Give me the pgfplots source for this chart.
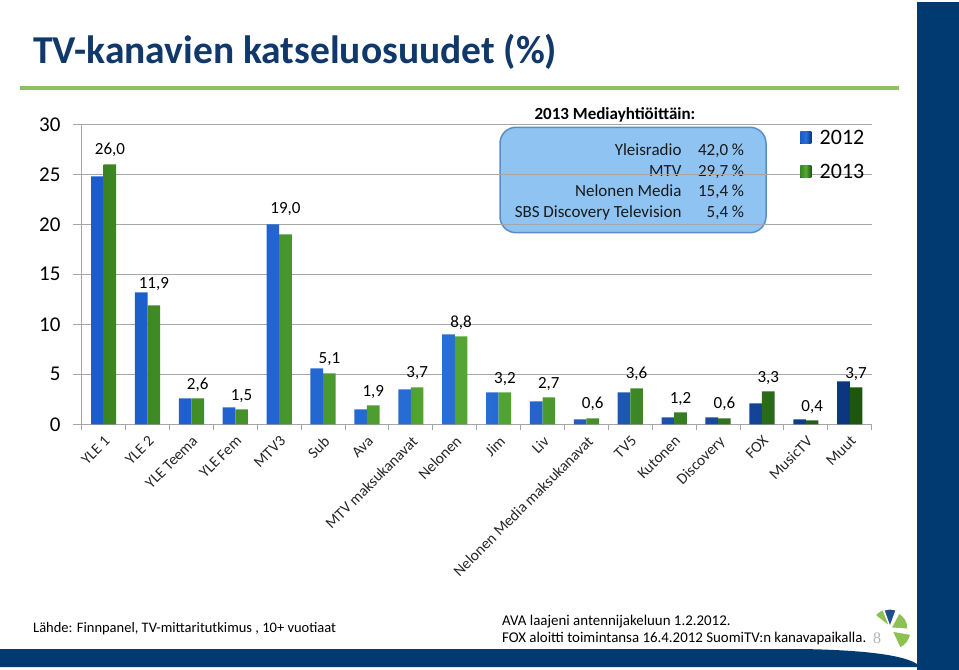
\documentclass[border=0pt]{standalone}
\usepackage{pgfplots}
\usepackage{pgfplotstable}
\pgfplotsset{compat=1.18}
\usepackage{fontspec}
\setmainfont{Carlito}
\newfontfamily\serifnum{Liberation Serif}
\definecolor{navy}{HTML}{003A70}
\definecolor{titleblue}{HTML}{10386A}
\definecolor{lgreen}{HTML}{8CC063}
\definecolor{boxfill}{HTML}{8FC3F2}
\definecolor{boxdraw}{HTML}{5C8CC4}
\definecolor{bL}{HTML}{1A5CC8}
\definecolor{bM}{HTML}{2A6ED8}
\definecolor{bR}{HTML}{0B3580}
\definecolor{gL}{HTML}{3A8522}
\definecolor{gM}{HTML}{55A834}
\definecolor{gR}{HTML}{1C5510}
\definecolor{gridgray}{HTML}{A6A6A6}
\definecolor{logoblue}{HTML}{1F4E8C}
\definecolor{logogreen}{HTML}{8DC152}
\pgfplotstableread{
x  y12   y13   dy
0  24.8  26.0  4
1  13.2  11.9  11
2  2.6   2.6   3.5
3  1.7   1.5   3.5
4  20.0  19.0  15
5  5.6   5.1   4
6  1.5   1.9   3.5
7  3.5   3.7   4.5
8  9.0   8.8   3.5
9  3.2   3.2   3.5
10 2.3   2.7   3.5
11 0.5   0.6   4
12 3.2   3.6   4
13 0.7   1.2   3.5
14 0.7   0.6   4
15 2.1   3.3   3.5
16 0.5   0.4   3.5
17 4.3   3.7   3.5
}\shares
\begin{document}
\begin{tikzpicture}
\useasboundingbox (0,0) rectangle (959bp,-670bp);
\begin{scope}[x=1bp,y=-1bp]
 \fill[navy] (917,2) rectangle (959,670);
 \fill[navy] (0,649) -- (800,649) .. controls (870,650) and (905,656) .. (917,664) -- (917,667) -- (0,667) -- cycle;
 \node[anchor=base west, inner sep=0, font=\fontsize{39.5bp}{44bp}\selectfont\bfseries, text=titleblue] at (33,63) {TV-kanavien katseluosuudet (\%)};
 \draw[lgreen, line width=4bp] (20,88) -- (899,88);
 % annotation box
 \draw[rounded corners=16bp, fill=boxfill, draw=boxdraw, line width=1.5bp] (500,127.3) rectangle (766,232.7);
 \node[anchor=base, inner sep=0, font=\fontsize{17bp}{20bp}\selectfont\bfseries] at (615,119) {2013 Mediayhtiöittäin:};
 \begin{scope}[every node/.style={inner sep=0, anchor=base east, font=\fontsize{17bp}{20bp}\selectfont, text=black!90}]
  \node at (681.7,155) {Yleisradio};    \node at (744.3,155) {42,0 \%};
  \node at (681.7,176) {MTV};           \node at (744.3,176) {29,7 \%};
  \node at (681.7,196.4) {Nelonen Media}; \node at (744.3,196.4) {15,4 \%};
  \node at (681.7,217.4) {SBS Discovery Television}; \node at (744.3,217.4) {5,4 \%};
 \end{scope}
 % footer
 \node[anchor=base west, inner sep=0, font=\fontsize{14.5bp}{17bp}\selectfont] at (33,632) {Lähde: Finnpanel, TV-mittaritutkimus , 10+ vuotiaat};
 \node[anchor=base west, inner sep=0, font=\fontsize{14.9bp}{17bp}\selectfont] at (502,625) {AVA laajeni antennijakeluun 1.2.2012.};
 \node[anchor=base west, inner sep=0, font=\fontsize{14.9bp}{17bp}\selectfont] at (502,642) {FOX aloitti toimintansa 16.4.2012 SuomiTV:n kanavapaikalla.};
 \node[anchor=base, inner sep=0, font=\serifnum\fontsize{16bp}{18bp}\selectfont, text=gray!60] at (877,643) {8};
\end{scope}
% logo (canvas coordinates, y up)
\begin{scope}[draw=white, line width=1.2bp]
 \filldraw[fill=logogreen] (890bp,-627bp) -- ++(112:19bp) arc[start angle=112, end angle=142, radius=19bp] -- cycle;
 \filldraw[fill=logoblue] (890bp,-627bp) -- ++(70:18bp) arc[start angle=70, end angle=110, radius=18bp] -- cycle;
 \filldraw[fill=logogreen] (891bp,-628bp) -- ++(-4:17bp) arc[start angle=-4, end angle=62, radius=17bp] -- cycle;
 \filldraw[fill=logogreen] (892bp,-631bp) -- ++(-65:19bp) arc[start angle=-65, end angle=-10, radius=19bp] -- cycle;
\end{scope}
\begin{axis}[
 at={(81.7bp,-424.3bp)}, anchor=south west,
 scale only axis, width=790bp, height=300bp,
 xmin=-0.5, xmax=17.5, ymin=0, ymax=30,
 enlarge x limits=false, enlarge y limits=false,
 ytick={0,5,10,15,20,25,30},
 xtick={0,...,17},
 xticklabels={YLE 1, YLE 2, YLE Teema, YLE Fem, MTV3, Sub, Ava, MTV maksukanavat, Nelonen, Jim, Liv, Nelonen Media maksukanavat, TV5, Kutonen, Discovery, FOX, MusicTV, Muut},
 minor xtick={-0.5,0.5,...,17.5},
 axis x line*=bottom, axis y line*=left,
 axis line style={gridgray, line width=1bp},
 ymajorgrids, grid style={gridgray, line width=1bp},
 tick align=outside, major tick length=9bp, minor tick length=6bp,
 major x tick style={draw=none},
 minor x tick style={gridgray, line width=1bp},
 major y tick style={gridgray, line width=1bp},
 /pgf/number format/assume math mode=true,
 yticklabel style={font=\fontsize{21bp}{25bp}\selectfont, inner sep=0pt, xshift=-12bp},
 xticklabel style={font=\fontsize{15.5bp}{18bp}\selectfont, text=black!85, rotate=45, anchor=north east, inner sep=1bp},
 ybar=0pt, bar width=12.6bp,
 legend style={at={(0.9095,0.988)}, anchor=north west, draw=none, fill=none, font=\fontsize{22bp}{26bp}\selectfont, row sep=14bp, inner sep=0pt},
 legend cell align=left,
 legend image code/.code={\fill[#1] (0bp,-6bp) rectangle (11bp,6bp); \path (17.3bp,0bp);},
 clip=false,
]
\addplot[draw=none, left color=bL, right color=bR, middle color=bM] table[x=x, y=y12] {\shares};
\addplot[draw=none, left color=gL, right color=gR, middle color=gM,
 visualization depends on={\thisrow{dy} \as \dy},
 nodes near coords={\pgfmathprintnumber[fixed,fixed zerofill,precision=1,use comma]{\pgfplotspointmeta}},
 nodes near coords style={font=\fontsize{17bp}{20bp}\selectfont, text=black, yshift=\dy*1bp}]
 table[x=x, y=y13] {\shares};
\legend{2012,2013}
\end{axis}
\end{tikzpicture}
\end{document}
